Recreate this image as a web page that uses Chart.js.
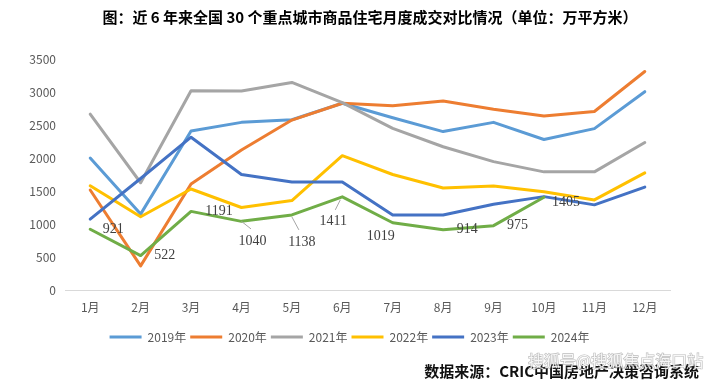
<!DOCTYPE html>
<html><head><meta charset="utf-8">
<script src="https://cdn.jsdelivr.net/npm/chart.js@4.4.1/dist/chart.umd.min.js"></script>
<style>html,body{margin:0;padding:0;background:#fff}#wrap{width:711px;height:382px;position:relative;background:#fff}</style>
</head><body><div id="wrap"><canvas id="c" width="711" height="382"></canvas></div>
<script>
const categories = ['1月','2月','3月','4月','5月','6月','7月','8月','9月','10月','11月','12月'];
const years = ['2019年','2020年','2021年','2022年','2023年','2024年'];
const s2019 = [2000,1150,2410,2540,2580,2830,2610,2400,2540,2280,2445,3005];
const s2020 = [1515,365,1605,2120,2575,2830,2790,2865,2740,2635,2705,3310];
const s2021 = [2665,1625,3020,3015,3145,2840,2450,2170,1945,1790,1790,2235];
const s2022 = [1580,1110,1530,1250,1355,2035,1750,1545,1575,1490,1365,1775];
const s2023 = [1075,1690,2315,1750,1635,1635,1135,1135,1300,1415,1290,1560];
const s2024 = [921,522,1191,1040,1138,1411,1019,914,975,1405,null,null];
const yTicks = [0,500,1000,1500,2000,2500,3000,3500];
const titleText = '图：近 6 年来全国 30 个重点城市商品住宅月度成交对比情况（单位：万平方米）';
const sourceText = '数据来源：CRIC中国房地产决策咨询系统';
const watermarkText = '搜狐号@搜狐焦点海口站';

const colors = ['#5B9BD5','#ED7D31','#A5A5A5','#FFC000','#4472C4','#70AD47'];
const seriesList = [s2019,s2020,s2021,s2022,s2023,s2024];
const labelOffsets = [[23,0],[24,0],[28,0],[11,20],[10,27],[-9,24],[-12,14],[24,0],[24,0],[22,5]];
const leaders = {3:[[0,0],[9.5,7.5]],4:[[0,2],[7,15]],5:[[-2,3],[-7,13]]};

const cjk = '"Noto Sans CJK SC","Noto Sans",sans-serif';

const labelPlugin = {
  id:'labels24',
  afterDatasetsDraw(chart){
    const ctx = chart.ctx;
    const meta = chart.getDatasetMeta(5);
    ctx.save();
    ctx.font = '14px "Liberation Serif","DejaVu Serif",serif';
    ctx.fillStyle = '#404040';
    ctx.textAlign = 'center';
    ctx.textBaseline = 'middle';
    s2024.forEach((v,i)=>{
      if(v==null) return;
      const p = meta.data[i];
      const o = labelOffsets[i];
      if(leaders[i]){
        const l = leaders[i];
        ctx.strokeStyle = '#A6A6A6'; ctx.lineWidth = 1;
        ctx.beginPath();
        ctx.moveTo(p.x+l[0][0], p.y+l[0][1]);
        ctx.lineTo(p.x+l[1][0], p.y+l[1][1]);
        ctx.stroke();
      }
      ctx.fillText(String(v), p.x+o[0], p.y+o[1]);
    });
    ctx.restore();
  },
  afterDraw(chart){
    const ctx = chart.ctx;
    ctx.save();
    ctx.font = 'bold 15px ' + cjk;
    ctx.fillStyle = '#000';
    ctx.textAlign = 'center';
    ctx.textBaseline = 'middle';
    ctx.fillText(titleText, 370, 17);
    ctx.textAlign = 'right';
    ctx.fillStyle = '#111';
    ctx.fillText(sourceText, 699, 371);
    ctx.font = '16px ' + cjk;
    ctx.textAlign = 'left';
    ctx.lineWidth = 1.2;
    ctx.strokeStyle = 'rgba(120,120,120,0.5)';
    ctx.fillStyle = 'rgba(255,255,255,0.88)';
    ctx.strokeText(watermarkText, 528, 361);
    ctx.fillText(watermarkText, 528, 361);
    ctx.restore();
  }
};

const bg = {id:'bg',beforeDraw(c){const x=c.ctx;x.save();x.fillStyle='#fff';x.fillRect(0,0,c.width,c.height);x.restore();}};

new Chart(document.getElementById('c'),{
  type:'line',
  data:{
    labels:categories,
    datasets:seriesList.map((d,i)=>({
      label:years[i], data:d, borderColor:colors[i], backgroundColor:colors[i],
      borderWidth:3, pointRadius:0, pointHoverRadius:0, tension:0, fill:false,
      order:5-i, spanGaps:false, borderCapStyle:'round', borderJoinStyle:'round'
    }))
  },
  options:{
    responsive:false, animation:false, devicePixelRatio:1,
    layout:{padding:{left:29,right:41,top:59,bottom:29}},
    plugins:{
      tooltip:{enabled:false},
      title:{display:false},
      legend:{position:'bottom',labels:{boxWidth:32,boxHeight:3,padding:4,color:'#595959',font:{family:cjk,size:12},
        generateLabels(chart){return chart.data.datasets.map((ds,i)=>({text:ds.label,fillStyle:ds.borderColor,strokeStyle:ds.borderColor,lineWidth:0,datasetIndex:i,hidden:false,fontColor:'#595959'}));}}}
    },
    scales:{
      x:{offset:true,grid:{display:false,drawTicks:false},border:{display:true,color:'#D9D9D9',width:1},
        ticks:{color:'#595959',font:{family:cjk,size:12},padding:10,maxRotation:0,autoSkip:false},
        afterFit(s){s.height=37;}},
      y:{min:0,max:3500,grid:{display:false,drawTicks:false},border:{display:false},
        afterBuildTicks(s){s.ticks=yTicks.map(v=>({value:v}));},
        ticks:{color:'#595959',font:{family:cjk,size:12},padding:9,callback:(v)=>String(v)},
        afterFit(s){s.width=36;}}
    }
  },
  plugins:[bg,labelPlugin]
});
</script></body></html>
